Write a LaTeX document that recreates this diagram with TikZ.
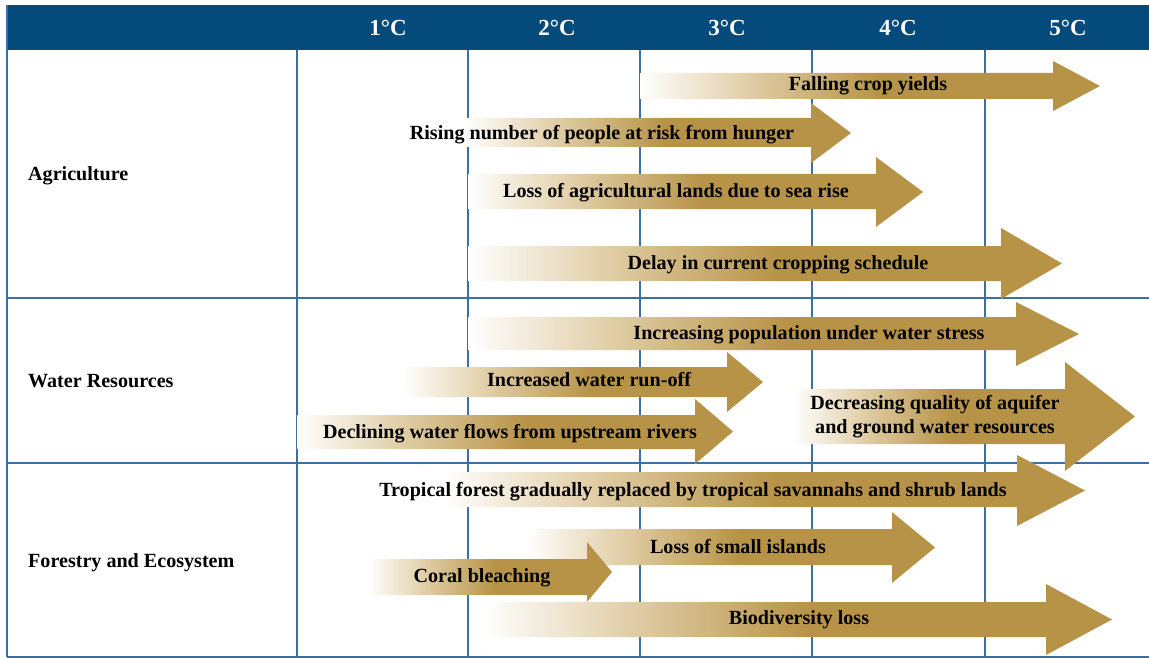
\documentclass[tikz,border=0pt]{standalone}
\usepackage{fontspec}
\setmainfont{Liberation Serif}
\definecolor{hdr}{RGB}{4,74,122}
\definecolor{gridc}{RGB}{60,112,158}
\definecolor{gold}{RGB}{183,147,71}
\definecolor{tanl}{RGB}{226,208,170}
\tikzset{
  lbl/.style={font=\fontsize{20.1}{24}\selectfont\bfseries, inner sep=0pt, text=black, anchor=base},
  hd/.style={font=\fontsize{23}{26}\selectfont\bfseries, text=white, inner sep=0pt, anchor=base},
  gl/.style={draw=gridc, line width=1.4pt},
}
% #1 xs, #2 body end, #3 tip, #4 body top, #5 body bottom, #6 head top, #7 head bottom, #8 id
\newcommand\garrow[8]{%
  \pgfmathsetmacro\gR{(#2-#1)/(#3-#1)}%
  \pgfmathsetmacro\gP{25+12.5*\gR}%
  \pgfmathsetmacro\gQ{25+29*\gR}%
  \pgfmathsetmacro\gY{(#6+#7)/2}%
  \edef\gtmp{\noexpand\pgfdeclarehorizontalshading{gfade#8}{100bp}{color(0bp)=(white); color(25bp)=(white); color(\gP bp)=(tanl); color(\gQ bp)=(gold); color(100bp)=(gold)}}%
  \gtmp
  \shade[shading=gfade#8] (#1,#4) -- (#2,#4) -- (#2,#6) -- (#3,\gY) -- (#2,#7) -- (#2,#5) -- (#1,#5) -- cycle;
}
\begin{document}
\begin{tikzpicture}[x=1pt,y=-1pt]
\useasboundingbox (0,0) rectangle (1149,658);
% header
\fill[hdr] (7,5) rectangle (1149,50);
\node[hd] (h1) at (388,36) {1°C};
\node[hd] (h2) at (557,36) {2°C};
\node[hd] (h3) at (727,36) {3°C};
\node[hd] (h4) at (898,36) {4°C};
\node[hd] (h5) at (1068,36) {5°C};
% grid
\foreach \xx in {297,468,640,812,985} \draw[gl] (\xx,50) -- (\xx,657);
\draw[gl] (7,298) -- (1149,298);
\draw[gl] (7,463) -- (1149,463);
\draw[gl] (7,657) -- (1149,657);
\draw[gl] (7,5) -- (7,657);
% row labels
\node[lbl, anchor=base west] (r1) at (28,180) {Agriculture};
\node[lbl, anchor=base west] (r2) at (28,387) {Water Resources};
\node[lbl, anchor=base west] (r3) at (28,567) {Forestry and Ecosystem};
% arrows
\garrow{640}{1053}{1100}{73}{99}{61}{111}{a}
\garrow{465}{811}{851}{118}{147}{103}{163}{b}
\garrow{468}{876}{923}{174}{209}{157}{227}{c}
\garrow{468}{1001}{1062}{246}{281}{228}{299}{d}
\garrow{468}{1016}{1079}{317}{350}{302}{366}{e}
\garrow{403}{727}{763}{367}{397}{352}{412}{f}
\garrow{297}{695}{733}{415}{449}{399}{464}{g}
\garrow{793}{1065}{1135}{389}{444}{362}{471}{h}
\garrow{443}{1017}{1085}{472}{507}{455}{526}{i}
\garrow{527}{892}{935}{529}{565}{512}{583}{j}
\garrow{368}{587}{612}{559}{595}{542}{602}{k}
\garrow{483}{1046}{1112}{602}{637}{584}{655}{l}
% arrow texts
\node[lbl] (t1) at (868,91) {Falling crop yields};
\node[lbl] (t2) at (602,139.5) {Rising number of people at risk from hunger};
\node[lbl] (t3) at (676,197.5) {Loss of agricultural lands due to sea rise};
\node[lbl] (t4) at (778,269.5) {Delay in current cropping schedule};
\node[lbl] (t5) at (809,339.5) {Increasing population under water stress};
\node[lbl] (t6) at (589,386.5) {Increased water run-off};
\node[lbl] (t7) at (510,438.5) {Declining water flows from upstream rivers};
\node[lbl, align=center, anchor=center] (t8) at (935,417) {Decreasing quality of aquifer\\and ground water resources};
\node[lbl] (t9) at (693,496.5) {Tropical forest gradually replaced by tropical savannahs and shrub lands};
\node[lbl] (t10) at (738,553.5) {Loss of small islands};
\node[lbl] (t11) at (482,582.5) {Coral bleaching};
\node[lbl] (t12) at (799,624.5) {Biodiversity loss};
\end{tikzpicture}
\end{document}
